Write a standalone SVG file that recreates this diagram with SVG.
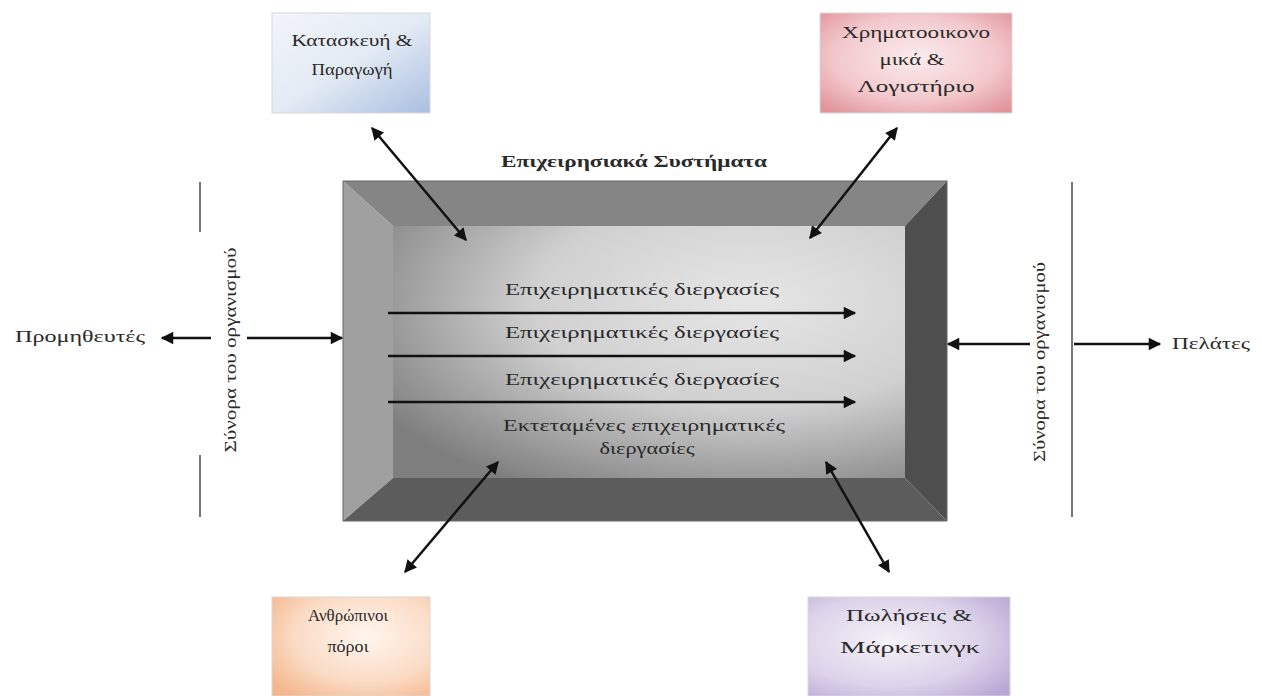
<svg xmlns="http://www.w3.org/2000/svg" width="1262" height="696" viewBox="0 0 1262 696">
<style>
text{font-family:"Liberation Serif","DejaVu Serif",serif;fill:#2a2a2a;font-size:16px}
.c{text-anchor:middle}
.b{font-weight:bold}
.ln{stroke:#111;stroke-width:2.5;fill:none}
.bd{stroke:#777;stroke-width:2;fill:none}
.box{stroke:#d8d8d8;stroke-width:1}
</style>
<defs>
<marker id="ah" viewBox="0 0 10 10" refX="9" refY="5" markerWidth="5.5" markerHeight="5" orient="auto-start-reverse"><path d="M0,0 L10,5 L0,10 z" fill="#111"/></marker>
<linearGradient id="gBlue" x1="0" y1="0" x2="1" y2="1"><stop offset="0" stop-color="#f2f5fa"/><stop offset="0.5" stop-color="#e4ebf5"/><stop offset="1" stop-color="#a9bfe0"/></linearGradient>
<radialGradient id="gRed" cx="0.5" cy="0.45" r="0.7"><stop offset="0" stop-color="#fbecee"/><stop offset="0.6" stop-color="#f3c8cc"/><stop offset="1" stop-color="#e0939a"/></radialGradient>
<radialGradient id="gOr" cx="0.6" cy="0.4" r="0.75"><stop offset="0" stop-color="#fff5ee"/><stop offset="0.6" stop-color="#fbdcc6"/><stop offset="1" stop-color="#f5b88e"/></radialGradient>
<radialGradient id="gPu" cx="0.4" cy="0.45" r="0.75"><stop offset="0" stop-color="#f5f2f8"/><stop offset="0.6" stop-color="#ddd3ea"/><stop offset="1" stop-color="#b9a8d6"/></radialGradient>
<radialGradient id="gIn" cx="0.7" cy="0.3" r="0.85"><stop offset="0" stop-color="#e6e6e6"/><stop offset="0.5" stop-color="#d0d0d0"/><stop offset="1" stop-color="#7e7e7e"/></radialGradient>
</defs>

<g id="frame">
<polygon points="343,181 947,181 905,226 393,226" fill="#858585"/>
<polygon points="343,181 393,226 393,478 343,521" fill="#a0a0a0"/>
<polygon points="947,181 947,521 905,478 905,226" fill="#4e4e4e"/>
<polygon points="343,521 393,478 905,478 947,521" fill="#5c5c5c"/>
<rect x="393" y="226" width="512" height="252" fill="url(#gIn)"/>
<rect x="343" y="181" width="604" height="340" fill="none" stroke="#666" stroke-width="1"/>
</g>

<g id="title"><text class="c b" x="634" y="167" font-size="15" textLength="266" lengthAdjust="spacingAndGlyphs">Επιχειρησιακά Συστήματα</text></g>

<g id="processes">
<text class="c" x="642" y="295" textLength="274" lengthAdjust="spacingAndGlyphs">Επιχειρηματικές  διεργασίες</text>
<text class="c" x="642" y="338" textLength="274" lengthAdjust="spacingAndGlyphs">Επιχειρηματικές  διεργασίες</text>
<text class="c" x="642" y="385" textLength="274" lengthAdjust="spacingAndGlyphs">Επιχειρηματικές  διεργασίες</text>
<text class="c" x="644" y="431" textLength="282" lengthAdjust="spacingAndGlyphs">Εκτεταμένες επιχειρηματικές</text>
<text class="c" x="647" y="454" textLength="95" lengthAdjust="spacingAndGlyphs">διεργασίες</text>
</g>

<g id="n-production"><rect class="box" x="272" y="13" width="158" height="100" fill="url(#gBlue)"/><text class="c" x="352" y="46" textLength="121" lengthAdjust="spacingAndGlyphs">Κατασκευή &amp;</text><text class="c" x="352" y="75" textLength="81" lengthAdjust="spacingAndGlyphs">Παραγωγή</text></g>
<g id="n-finance"><rect class="box" x="820" y="13" width="192" height="100" fill="url(#gRed)"/><text class="c" x="916" y="38" textLength="148" lengthAdjust="spacingAndGlyphs">Χρηματοοικονο</text><text class="c" x="912" y="65" textLength="65" lengthAdjust="spacingAndGlyphs">μικά &amp;</text><text class="c" x="916" y="92" textLength="117" lengthAdjust="spacingAndGlyphs">Λογιστήριο</text></g>
<g id="n-hr"><rect class="box" x="272" y="597" width="158" height="99" fill="url(#gOr)"/><text class="c" x="348" y="621" textLength="80" lengthAdjust="spacingAndGlyphs">Ανθρώπινοι</text><text class="c" x="348" y="652" textLength="41" lengthAdjust="spacingAndGlyphs">πόροι</text></g>
<g id="n-sales"><rect class="box" x="808" y="597" width="202" height="99" fill="url(#gPu)"/><text class="c" x="909" y="621" textLength="126" lengthAdjust="spacingAndGlyphs">Πωλήσεις &amp;</text><text class="c" x="910" y="653" textLength="140" lengthAdjust="spacingAndGlyphs">Μάρκετινγκ</text></g>

<g id="n-suppliers"><text x="15" y="342" textLength="130" lengthAdjust="spacingAndGlyphs">Προμηθευτές</text></g>
<g id="n-customers"><text x="1172" y="349" textLength="78" lengthAdjust="spacingAndGlyphs">Πελάτες</text></g>

<g id="boundaries">
<line class="bd" x1="200" y1="182" x2="200" y2="232"/>
<line class="bd" x1="200" y1="455" x2="200" y2="517"/>
<text class="c" transform="translate(236,350) rotate(-90)" font-size="15" textLength="205" lengthAdjust="spacingAndGlyphs">Σύνορα του οργανισμού</text>
<line class="bd" x1="1072" y1="182" x2="1072" y2="517"/>
<text class="c" transform="translate(1045,362) rotate(-90)" font-size="15" textLength="200" lengthAdjust="spacingAndGlyphs">Σύνορα του οργανισμού</text>
</g>

<g id="connectors">
<line class="ln" x1="388" y1="313" x2="855" y2="313" marker-end="url(#ah)"/>
<line class="ln" x1="388" y1="356" x2="855" y2="356" marker-end="url(#ah)"/>
<line class="ln" x1="388" y1="402" x2="855" y2="402" marker-end="url(#ah)"/>
<line class="ln" x1="372" y1="128" x2="466" y2="240" marker-start="url(#ah)" marker-end="url(#ah)"/>
<line class="ln" x1="897" y1="128" x2="810" y2="238" marker-start="url(#ah)" marker-end="url(#ah)"/>
<line class="ln" x1="498" y1="462" x2="405" y2="572" marker-start="url(#ah)" marker-end="url(#ah)"/>
<line class="ln" x1="826" y1="462" x2="889" y2="572" marker-start="url(#ah)" marker-end="url(#ah)"/>
<line class="ln" x1="211" y1="338" x2="162" y2="338" marker-end="url(#ah)"/>
<line class="ln" x1="247" y1="338" x2="342" y2="338" marker-end="url(#ah)"/>
<line class="ln" x1="1030" y1="344" x2="948" y2="344" marker-end="url(#ah)"/>
<line class="ln" x1="1074" y1="344" x2="1160" y2="344" marker-end="url(#ah)"/>
</g>
</svg>
